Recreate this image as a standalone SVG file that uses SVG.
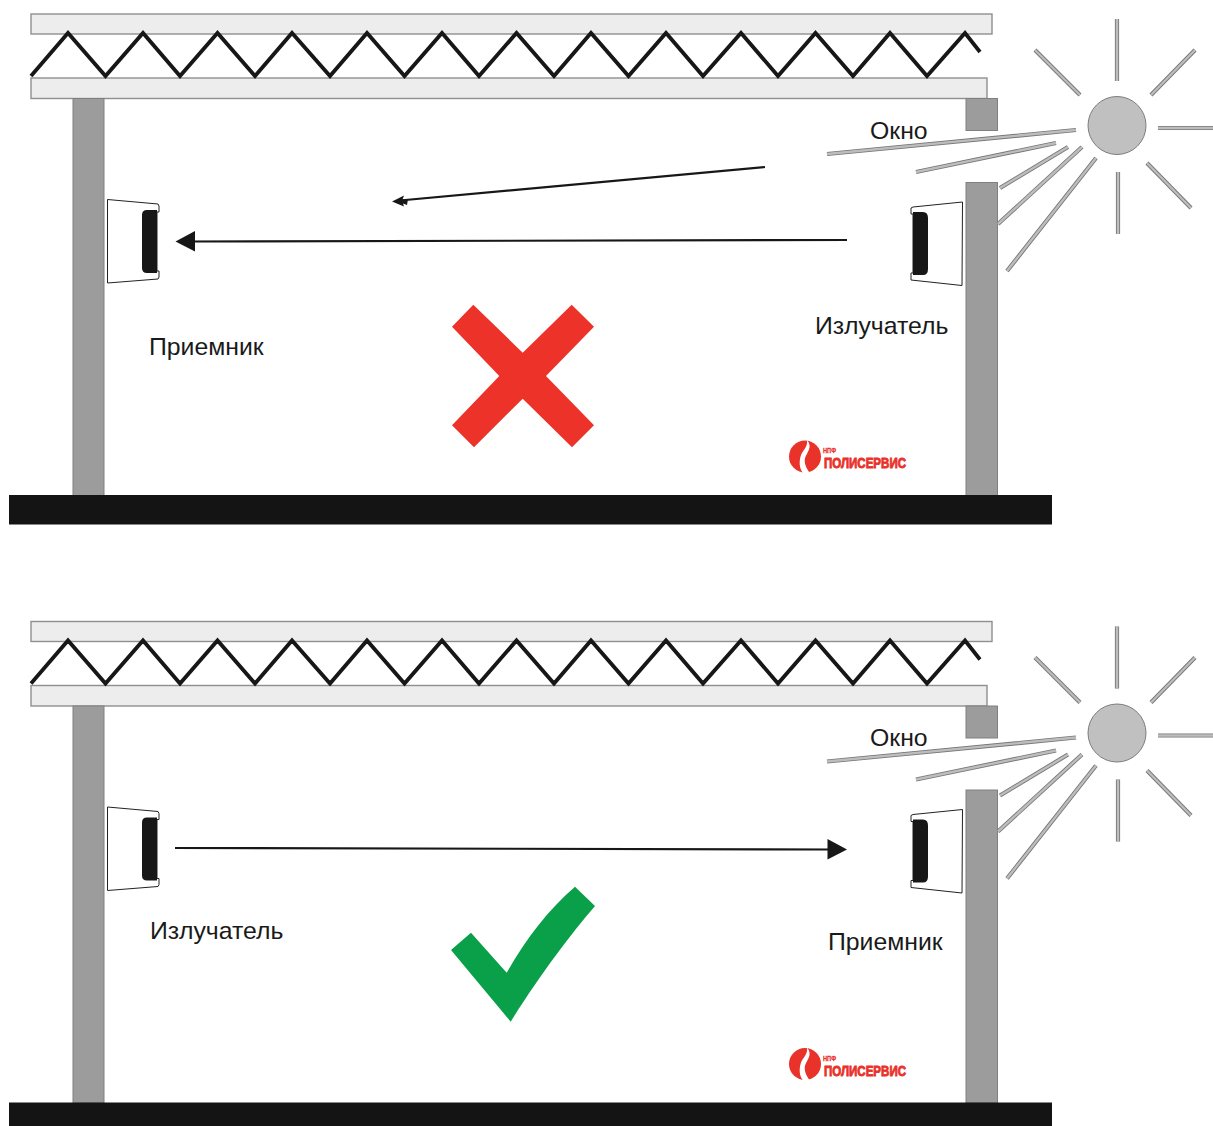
<svg xmlns="http://www.w3.org/2000/svg" width="1213" height="1126" viewBox="0 0 1213 1126">
<style>
.slab{fill:#eeeded;stroke:#8f8f8f;stroke-width:1.4}
.post{fill:#9c9c9c;stroke:#808080;stroke-width:1}
.floor{fill:#141414}
.zig{fill:none;stroke:#171717;stroke-width:3.8;stroke-linejoin:miter}
.rayo{fill:none;stroke:#777;stroke-width:4.2}
.rayi{fill:none;stroke:#bdbdbd;stroke-width:2.4}
.sun{fill:#c0c0c0;stroke:#7d7d7d;stroke-width:1}
.box{fill:#fff;stroke:#222;stroke-width:1}
.bar{fill:#171717}
.wire{fill:none;stroke:#171717;stroke-width:2.2}
.head{fill:#171717}
.lbl{font-family:"Liberation Sans",Arial,sans-serif;font-size:24.8px;fill:#1a1a1a}
.lg1{font-family:"Liberation Sans",Arial,sans-serif;font-weight:700;font-size:15px;fill:#e8322a;stroke:#e8322a;stroke-width:.9}
.lg2{font-family:"Liberation Sans",Arial,sans-serif;font-weight:700;font-size:7px;fill:#e8322a;stroke:#e8322a;stroke-width:.3}
</style>
<defs>
<g id="roofShape">
<rect class="slab" x="31" y="14" width="961" height="20"/>
<rect class="slab" x="31" y="78" width="956" height="20.5"/>
<path class="zig" d="M31 76L68 33L105.500 76L143 33L180 76L217.500 33L255 76L292 33L330 76L367 33L404.500 76L442 33L479 76L516.500 33L554 76L591 33L628.500 76L666 33L703 76L741 33L778 76L815.500 33L853 76L890 33L927 76L965 33L980 52"/>
</g>
<g id="sunShape">
<circle class="sun" cx="1117" cy="125.500" r="29"/>
<path class="rayo" d="M1117 19V81M1195 50L1151 95M1158 128H1213M1147 163L1191 208M1118 172V234M1035 50L1080 95M827 154L1076 130M916 172L1056 143M1000 188L1068 147M998 224L1082 147M1007 271L1096 158"/>
<path class="rayi" d="M1117 19V81M1195 50L1151 95M1158 128H1213M1147 163L1191 208M1118 172V234M1035 50L1080 95M827 154L1076 130M916 172L1056 143M1000 188L1068 147M998 224L1082 147M1007 271L1096 158"/>
</g>
<g id="deviceLeft">
<path class="box" d="M107.500 199.500L158 204L159 206V212H157V271H159V277L158 279L107.500 283Z"/>
<path class="bar" d="M147 210H157V273H147Q142 273 142 268V215Q142 210 147 210Z"/>
</g>
<g id="deviceRight">
<path class="box" d="M962.500 202L913 207L911 208V214H913V273H911L911 280L962 285.500Z"/>
<path class="bar" d="M913 212H923Q928 212 928 218V269Q928 275 923 275H913Z"/>
</g>
<g id="logoShape">
<circle cx="805" cy="456.500" r="16" fill="#e8322a"/>
<path d="M807 440C813 447 807 452 805 458C804 463 806 468 810 473L803 473C799 468 799 461 801 455C803 450 808 447 807 440Z" fill="#fff"/>
<text class="lg2" x="823" y="453" textLength="13" lengthAdjust="spacingAndGlyphs">НПФ</text>
<text class="lg1" x="824" y="468" textLength="82" lengthAdjust="spacingAndGlyphs">ПОЛИСЕРВИС</text>
</g>
</defs>
<rect width="1213" height="1126" fill="#fff"/>

<g id="panel-top">
<g id="roof-1"><use href="#roofShape"/></g>
<g id="post-left-1"><rect class="post" x="73" y="98.500" width="31" height="397"/></g>
<g id="post-right-1"><rect class="post" x="966" y="182.500" width="31.500" height="313"/></g>
<g id="lintel-1"><rect class="post" x="966" y="98.500" width="31.500" height="32"/></g>
<g id="floor-1"><rect class="floor" x="9" y="495" width="1043" height="29.500"/></g>
<g id="sun-1"><use href="#sunShape"/></g>
<g id="receiver-1"><use href="#deviceLeft"/></g>
<g id="emitter-1"><use href="#deviceRight"/></g>
<g id="window-label-1"><text class="lbl" x="870" y="138.500">Окно</text></g>
<g id="receiver-label-1"><text class="lbl" x="149" y="355">Приемник</text></g>
<g id="emitter-label-1"><text class="lbl" x="815" y="334">Излучатель</text></g>
<g id="cross"><path d="M473.300 304.700L522.700 352.700L571.700 304.700L594 326.700L546 376L594 425.300L572 447.300L522.700 398.700L474 447.300L452 425.300L499.300 376L452 326.700Z" fill="#ec3229"/></g>
<g id="logo-1"><use href="#logoShape"/></g>
</g>

<g id="panel-bottom">
<g id="roof-2"><use href="#roofShape" y="607.500"/></g>
<g id="post-left-2"><rect class="post" x="73" y="706" width="31" height="397"/></g>
<g id="post-right-2"><rect class="post" x="966" y="790" width="31.500" height="313"/></g>
<g id="lintel-2"><rect class="post" x="966" y="706" width="31.500" height="32"/></g>
<g id="floor-2"><rect class="floor" x="9" y="1102.500" width="1043" height="23.500"/></g>
<g id="sun-2"><use href="#sunShape" y="607.500"/></g>
<g id="emitter-2"><use href="#deviceLeft" y="607.500"/></g>
<g id="receiver-2"><use href="#deviceRight" y="607.500"/></g>
<g id="window-label-2"><text class="lbl" x="870" y="746">Окно</text></g>
<g id="emitter-label-2"><text class="lbl" x="150" y="939">Излучатель</text></g>
<g id="receiver-label-2"><text class="lbl" x="828" y="950">Приемник</text></g>
<g id="check"><path d="M451 950L471 932.700L506.700 972.700C525 940 548 910 575 886.700L595 906C570 935 540 975 510.700 1021.700Z" fill="#0a9f49"/></g>
<g id="logo-2"><use href="#logoShape" y="607.500"/></g>
</g>

<g id="connectors">
<path class="wire" d="M765 167L400 200.500"/>
<path class="head" d="M392 201.500L404 195.500L402.500 199.500L408 199L407 205L403 203.500L404 206.500Z"/>
<path class="wire" d="M847 240L190 241.500"/>
<path class="head" d="M175.500 241.500L195 231V251.500Z"/>
<path class="wire" d="M175 848L832 849.500"/>
<path class="head" d="M847 849.500L827.500 839V859.500Z"/>
</g>
</svg>
